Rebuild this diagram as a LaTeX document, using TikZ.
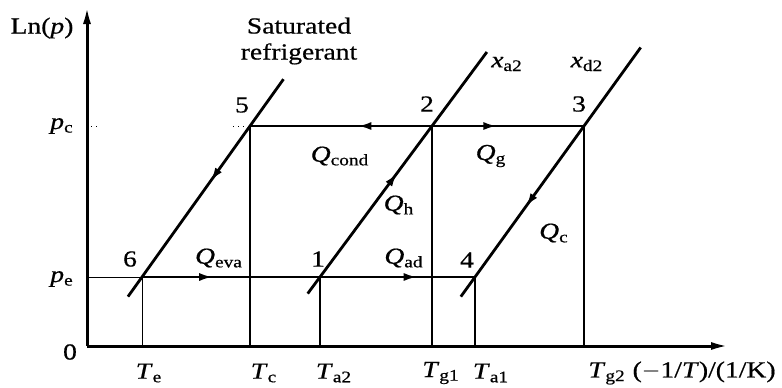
\documentclass[tikz,border=0pt]{standalone}
\usepackage{fontspec}
\setmainfont{Liberation Serif}[FakeStretch=1.2, FakeBold=0.6]
\usetikzlibrary{arrows.meta, calc, decorations.markings}
\newcommand{\qlab}[2]{\textit{#1}\textsubscript{#2}}

\begin{document}
\begin{tikzpicture}[
        x=0.5pt, y=-0.5pt,
        every node/.style={font=\fontsize{11.5pt}{13pt}\selectfont, inner sep=0pt},
        axis/.style={line width=1.5pt, -{Latex[length=9pt, width=4pt]}},
        loopline/.style={line width=1.4pt},
        guide/.style={line width=0.5pt},
        flow/.style={loopline, postaction={decorate}, decoration={markings, mark=at position #1 with {\arrow{Latex[length=7pt, width=4pt]}}}},
    ]
    \useasboundingbox (0,0) rectangle (782,387);

    \coordinate (o) at (87,346);
    \coordinate (p1) at (320,277);
    \coordinate (p2) at (432,126);
    \coordinate (p3) at (584,126);
    \coordinate (p4) at (475,277);
    \coordinate (p5) at (250,126);
    \coordinate (p6) at (142,277);
    \coordinate (s1) at ($(p6)!-0.13!(p5)$);
    \coordinate (s2) at ($(p6)!1.31!(p5)$);
    \coordinate (a1) at ($(p1)!-0.11!(p2)$);
    \coordinate (a2) at ($(p1)!1.49!(p2)$);
    \coordinate (d1) at ($(p4)!-0.13!(p3)$);
    \coordinate (d2) at ($(p4)!1.52!(p3)$);
    \coordinate (c5) at (233,126);
    \coordinate (t1) at (91,126);
    \coordinate (t2) at (98,126);

    \draw[axis] (o) -- (729,346);
    \draw[axis] (o) -- (87,6);

    \draw[guide] (p6 -| o) -- (p6);
    \draw[guide] (p6) -- (p6 |- o);
    \draw[guide, dotted] (c5) -- (p5);
    \draw[guide, dotted] (t1) -- (t2);

    \draw[flow=0.41] (p2) -- (p5);
    \draw[flow=0.43] (p2) -- (p3);
    \draw[flow=0.4] (p6) -- (p1);
    \draw[flow=0.63] (p1) -- (p4);
    \draw[flow=0.47] (s2) -- (s1);
    \draw[flow=0.5] (a1) -- (a2);
    \draw[flow=0.64] (d2) -- (d1);

    \foreach \p in {p1, p2, p3, p4, p5}
        \draw[loopline] (\p) -- (\p |- o);

    \node (lnp) at (42,28) {Ln(\textit{p})};
    \node (sat) at (299,41) [align=center] {Saturated\\refrigerant};
    \node (xa) at (507,64) {\qlab{x}{a2}};
    \node (xd) at (587,64) {\qlab{x}{d2}};
    \node (pc) at (62,126) {\qlab{p}{c}};
    \node (pe) at (62,279) {\qlab{p}{e}};
    \node (zero) at (70,352) {0};

    \node (n5) at (242,105) {5};
    \node (n2) at (427,104) {2};
    \node (n3) at (579,104) {3};
    \node (n6) at (130,259) {6};
    \node (n1) at (318,259) {1};
    \node (n4) at (467,260) {4};

    \node (qcond) at (340,156) {\qlab{Q}{cond}};
    \node (qg) at (491,156) {\qlab{Q}{g}};
    \node (qh) at (399,205) {\qlab{Q}{h}};
    \node (qc) at (554,233) {\qlab{Q}{c}};
    \node (qeva) at (219,258) {\qlab{Q}{eva}};
    \node (qad) at (404,258) {\qlab{Q}{ad}};

    \node (te) at (149,373) {\qlab{T}{e}};
    \node (tc) at (264,373) {\qlab{T}{c}};
    \node (ta2) at (334,373) {\qlab{T}{a2}};
    \node (tg1) at (441,373) {\qlab{T}{g1}};
    \node (ta1) at (491,373) {\qlab{T}{a1}};
    \node (tg2) at (682,373) {\qlab{T}{g2} ($-$1/\textit{T})/(1/K)};
\end{tikzpicture}
\end{document}
